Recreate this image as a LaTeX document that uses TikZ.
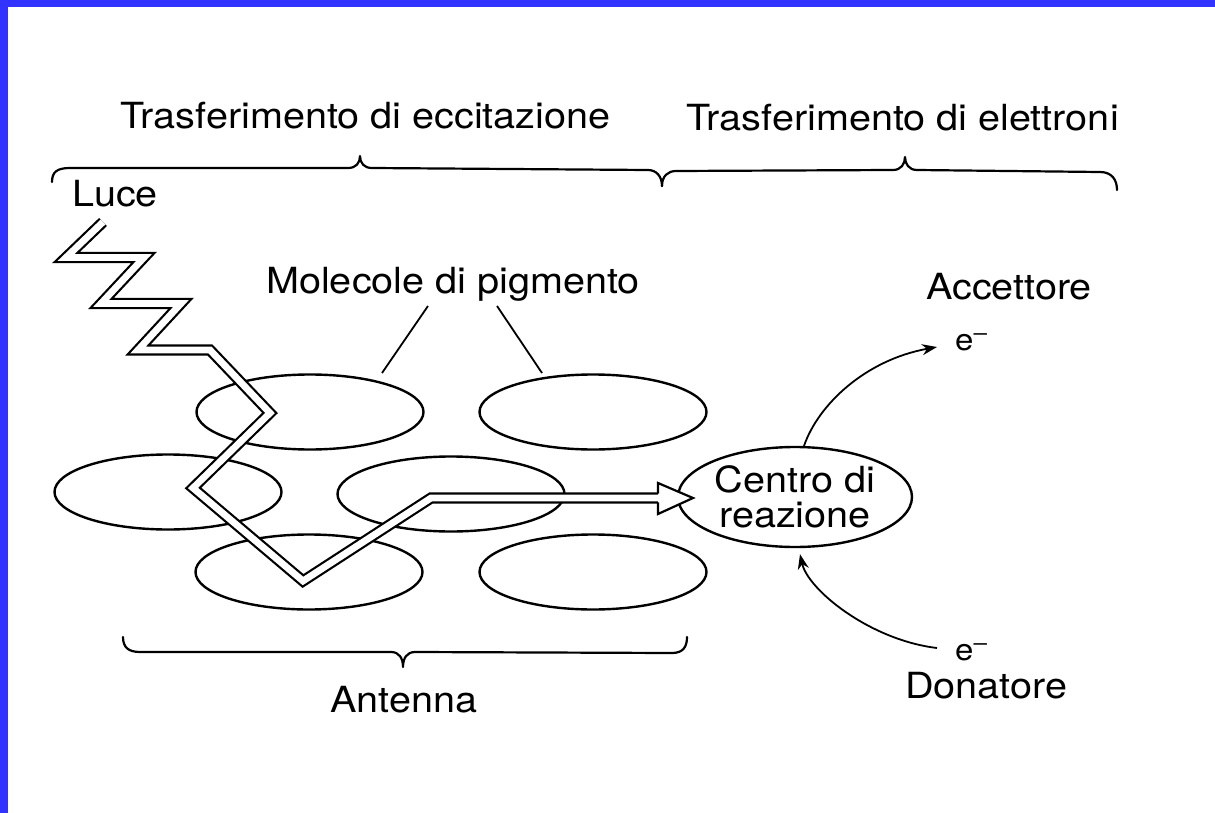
\documentclass[tikz,border=0pt]{standalone}
\usepackage{fontspec}
\setmainfont{TeX Gyre Heros}[FakeStretch=1.1]
\usetikzlibrary{shapes.geometric,arrows.meta,calc}
\definecolor{frameblue}{RGB}{51,51,255}
\newcommand{\elec}{e\raisebox{10pt}{\fontsize{22}{22}\selectfont –}}
\begin{document}
\begin{tikzpicture}[x=1pt,y=-1pt,
  lbl/.style={inner sep=0pt, anchor=base west, font=\fontsize{36}{35}\selectfont},
  esm/.style={inner sep=0pt, anchor=base west, font=\fontsize{30}{30}\selectfont},
  mol/.style={draw, ellipse, line width=2.4pt, minimum width=227pt, minimum height=75pt, inner sep=0pt},
  brace/.style={line width=2.2pt, line cap=round, line join=round},
  conn/.style={line width=1.8pt, -{Stealth[length=15pt,width=11pt]}},
  leader/.style={line width=1.8pt},
  band/.style={double=white, double distance=6.8pt, line width=2.2pt, line join=miter},
]
\useasboundingbox (0,0) rectangle (1215,813);
\fill[white] (0,0) rectangle (1215,813);
\fill[frameblue] (0,0) rectangle (1215,7);
\fill[frameblue] (0,0) rectangle (8,813);

% texts
\node[lbl] (tr1) at (120,129) {Trasferimento di eccitazione};
\node[lbl] (tr2) at (686,131) {Trasferimento di elettroni};
\node[lbl] (luce) at (72,207) {Luce};
\node[lbl] (mol) at (266,293) {Molecole di pigmento};
\node[lbl] (acc) at (926,299) {Accettore};
\node[esm] (eup) at (955,350) {\elec};
\node[esm] (edown) at (955,660) {\elec};
\node[lbl] (don) at (905,698) {Donatore};
\node[lbl] (ant) at (330,712) {Antenna};

% braces
\draw[brace] (52,182) .. controls (52,172) and (57,168) .. (70,168) -- (348,168)
  .. controls (356,168) and (360,163) .. (360,156)
  .. controls (360,163) and (364,168) .. (372,168) -- (648,170)
  .. controls (656,170) and (662,176) .. (662,186);
\draw[brace] (662,186) .. controls (662,176) and (668,171) .. (676,171) -- (893,170)
  .. controls (901,170) and (905,164) .. (905,157)
  .. controls (905,164) and (909,170) .. (917,170) -- (1100,172)
  .. controls (1112,172) and (1117,180) .. (1117,190);
\draw[brace] (123,637) .. controls (123,647) and (128,652) .. (140,652) -- (391,652)
  .. controls (399,652) and (403,658) .. (403,667)
  .. controls (403,658) and (407,652) .. (415,652) -- (672,653)
  .. controls (683,653) and (687,647) .. (687,637);

% pigment molecules
\node[mol] (m1) at (310,412) {};
\node[mol] (m2) at (593,412) {};
\node[mol] (m3) at (168,492) {};
\node[mol] (m4) at (451,494) {};
\node[mol] (m5) at (309,572) {};
\node[mol] (m6) at (593,572) {};

% reaction centre
\node[draw, ellipse, line width=2.4pt, minimum width=234pt, minimum height=100pt,
      inner sep=0pt, align=center, font=\fontsize{36}{35}\selectfont] (centro) at (795,497) {Centro di\\reazione};

% leader lines
\draw[leader] ($(mol.base west)+(162,13)$) -- ($(m1.center)+(72,-39)$);
\draw[leader] ($(mol.base west)+(231,13)$) -- ($(m2.center)+(-51,-39)$);

% light / excitation path
\draw[band] (103,222) -- (66,257.5) -- (144,257.5) -- (101,303.5) -- (181,303.5)
  -- (138,350) -- (210,350) -- (270,413) -- (193,488) -- (303,581) -- (431,498) -- (658,498);
\fill[white] (658,483) -- (693,498) -- (658,514) -- cycle;
\draw[line width=2.2pt, line join=miter] (658,493.6) -- (658,483) -- (693,498) -- (658,514) -- (658,502.4);

% electron transfer arrows
\draw[conn] (centro.80) .. controls (818,405) and (865,360) .. ($(eup.base west)+(-18,-3)$);
\draw[conn] ($(edown.base west)+(-18,-12)$) .. controls (870,640) and (808,590) .. ($(centro.south)+(5,6)$);
\end{tikzpicture}
\end{document}
